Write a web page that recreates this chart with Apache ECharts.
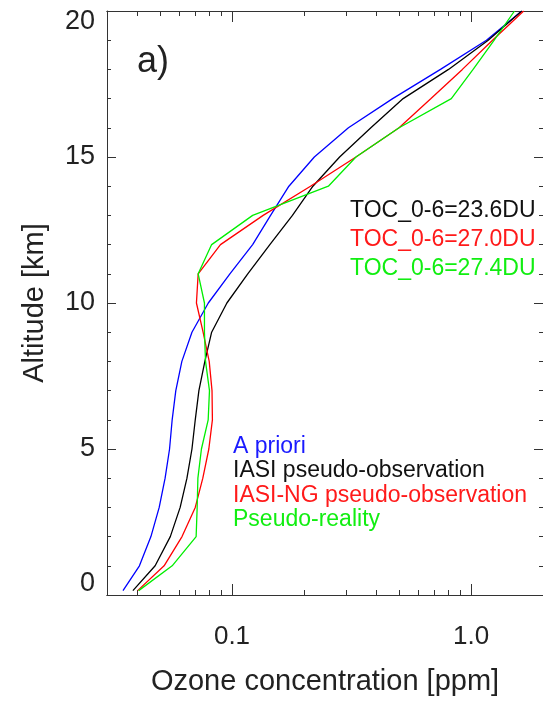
<!DOCTYPE html>
<html>
<head>
<meta charset="utf-8">
<script src="https://cdn.jsdelivr.net/npm/echarts@6/dist/echarts.min.js"></script>
<style>
html,body{margin:0;padding:0;background:#fff;}
#chart{width:543px;height:701px;}
</style>
</head>
<body>
<div id="chart"></div>
<script>
// Altitude levels [km]
const altitude = [0.15, 1, 2, 3, 4, 5, 6, 7, 8, 9, 10, 11, 12, 13, 14, 15, 16, 17, 18, 19, 20];
// Ozone concentration [ppm]
const aPriori = [0.035, 0.041, 0.0458, 0.0496, 0.0525, 0.0548, 0.0562, 0.0582, 0.0617, 0.068, 0.0796, 0.098, 0.122, 0.145, 0.173, 0.221, 0.307, 0.47, 0.745, 1.16, 1.63];
const iasi = [0.0385, 0.0477, 0.0552, 0.0607, 0.0648, 0.068, 0.0702, 0.0727, 0.077, 0.0822, 0.0952, 0.1164, 0.144, 0.179, 0.218, 0.282, 0.381, 0.52, 0.805, 1.18, 1.63];
const iasiNG = [0.0403, 0.052, 0.0618, 0.0702, 0.0755, 0.080, 0.0828, 0.0825, 0.0803, 0.0757, 0.071, 0.0722, 0.0895, 0.135, 0.213, 0.33, 0.5, 0.68, 0.92, 1.23, 1.66];
const pseudoReality = [0.0407, 0.0562, 0.0708, 0.0715, 0.072, 0.0745, 0.0795, 0.0805, 0.0775, 0.0767, 0.0767, 0.0722, 0.0822, 0.122, 0.253, 0.33, 0.5, 0.827, 1.02, 1.25, 1.52];

const seriesNames = ['A priori', 'IASI pseudo-observation', 'IASI-NG pseudo-observation', 'Pseudo-reality'];
const seriesColors = ['#0000ff', '#000000', '#ff0000', '#00ee00'];
const tocTexts = ['TOC_0-6=23.6DU', 'TOC_0-6=27.0DU', 'TOC_0-6=27.4DU'];
const tocColors = ['#111111', '#ff1a1a', '#11ee11'];

const xMajorTicks = [0.1, 1];
const xMinorTicks = [0.03, 0.04, 0.05, 0.06, 0.07, 0.08, 0.09, 0.2, 0.3, 0.4, 0.5, 0.6, 0.7, 0.8, 0.9, 2];
const xTickLabels = {'0.1': '0.1', '1': '1.0'};

const FONT = 'Liberation Sans, Arial, Helvetica, sans-serif';
const AX = '#333333';

function pairs(vals) { return vals.map((v, i) => [v, altitude[i]]); }

function xAx(pos, ticks, len, showLabel, name) {
  return {
    type: 'log', logBase: 10, min: 0.03, max: 2, position: pos, gridIndex: 0,
    name: name || '', nameLocation: 'middle', nameGap: 72,
    nameTextStyle: {fontFamily: FONT, fontSize: 29, color: '#222'},
    axisLine: {show: true, lineStyle: {color: AX, width: 1}},
    axisTick: {show: true, inside: true, length: len, customValues: ticks, lineStyle: {color: AX}},
    axisLabel: {show: showLabel, customValues: xMajorTicks, margin: 29, fontFamily: FONT, fontSize: 26, color: '#222',
      formatter: v => xTickLabels[String(+v.toFixed(6))] || ''},
    splitLine: {show: false}, minorTick: {show: false}
  };
}
function yAx(pos, showLabel, name) {
  return {
    type: 'value', min: 0, max: 20, interval: 5, position: pos, gridIndex: 0,
    name: name || '', nameLocation: 'middle', nameGap: 58, nameRotate: 90,
    nameTextStyle: {fontFamily: FONT, fontSize: 29, color: '#222'},
    axisLine: {show: true, lineStyle: {color: AX, width: 1}},
    axisTick: {show: true, inside: true, length: 9, lineStyle: {color: AX}},
    minorTick: {show: true, splitNumber: 5, length: 4, lineStyle: {color: AX}},
    axisLabel: {show: showLabel, margin: 12, fontFamily: FONT, fontSize: 27, lineHeight: 22, color: '#222',
      verticalAlignMinLabel: 'bottom', verticalAlignMaxLabel: 'top'},
    splitLine: {show: false}, minorSplitLine: {show: false}
  };
}

const chart = echarts.init(document.getElementById('chart'), null, {renderer: 'canvas'});
const allSeries = [aPriori, iasi, iasiNG, pseudoReality];
const graphics = [{type: 'text', left: 137, top: 44, style: {text: 'a)', font: '36px ' + FONT, fill: '#222'}}];
tocTexts.forEach((t, i) => graphics.push({type: 'text', left: 350, top: 199 + i * 29, style: {text: t, font: '23px ' + FONT, fill: tocColors[i]}}));
seriesNames.forEach((t, i) => graphics.push({type: 'text', left: 233, top: 435 + i * 24.5, style: {text: t, font: '23px ' + FONT, fill: ['#1a1aff', '#111111', '#ff1a1a', '#11ee11'][i]}}));

chart.setOption({
  backgroundColor: '#ffffff',
  animation: false,
  grid: {left: 107, top: 11, width: 443, height: 593, containLabel: false},
  xAxis: [
    xAx('bottom', xMajorTicks, 11, true, 'Ozone concentration [ppm]'),
    xAx('bottom', xMinorTicks, 5, false),
    xAx('top', xMajorTicks, 11, false),
    xAx('top', xMinorTicks, 5, false)
  ],
  yAxis: [yAx('left', true, 'Altitude [km]'), yAx('right', false)],
  series: allSeries.map((vals, i) => ({
    type: 'line', name: seriesNames[i], xAxisIndex: 0, yAxisIndex: 0,
    data: pairs(vals), showSymbol: false, symbol: 'none', clip: true,
    lineStyle: {color: seriesColors[i], width: 1.3}, z: 3 + i
  })),
  graphic: graphics
});
</script>
</body>
</html>
